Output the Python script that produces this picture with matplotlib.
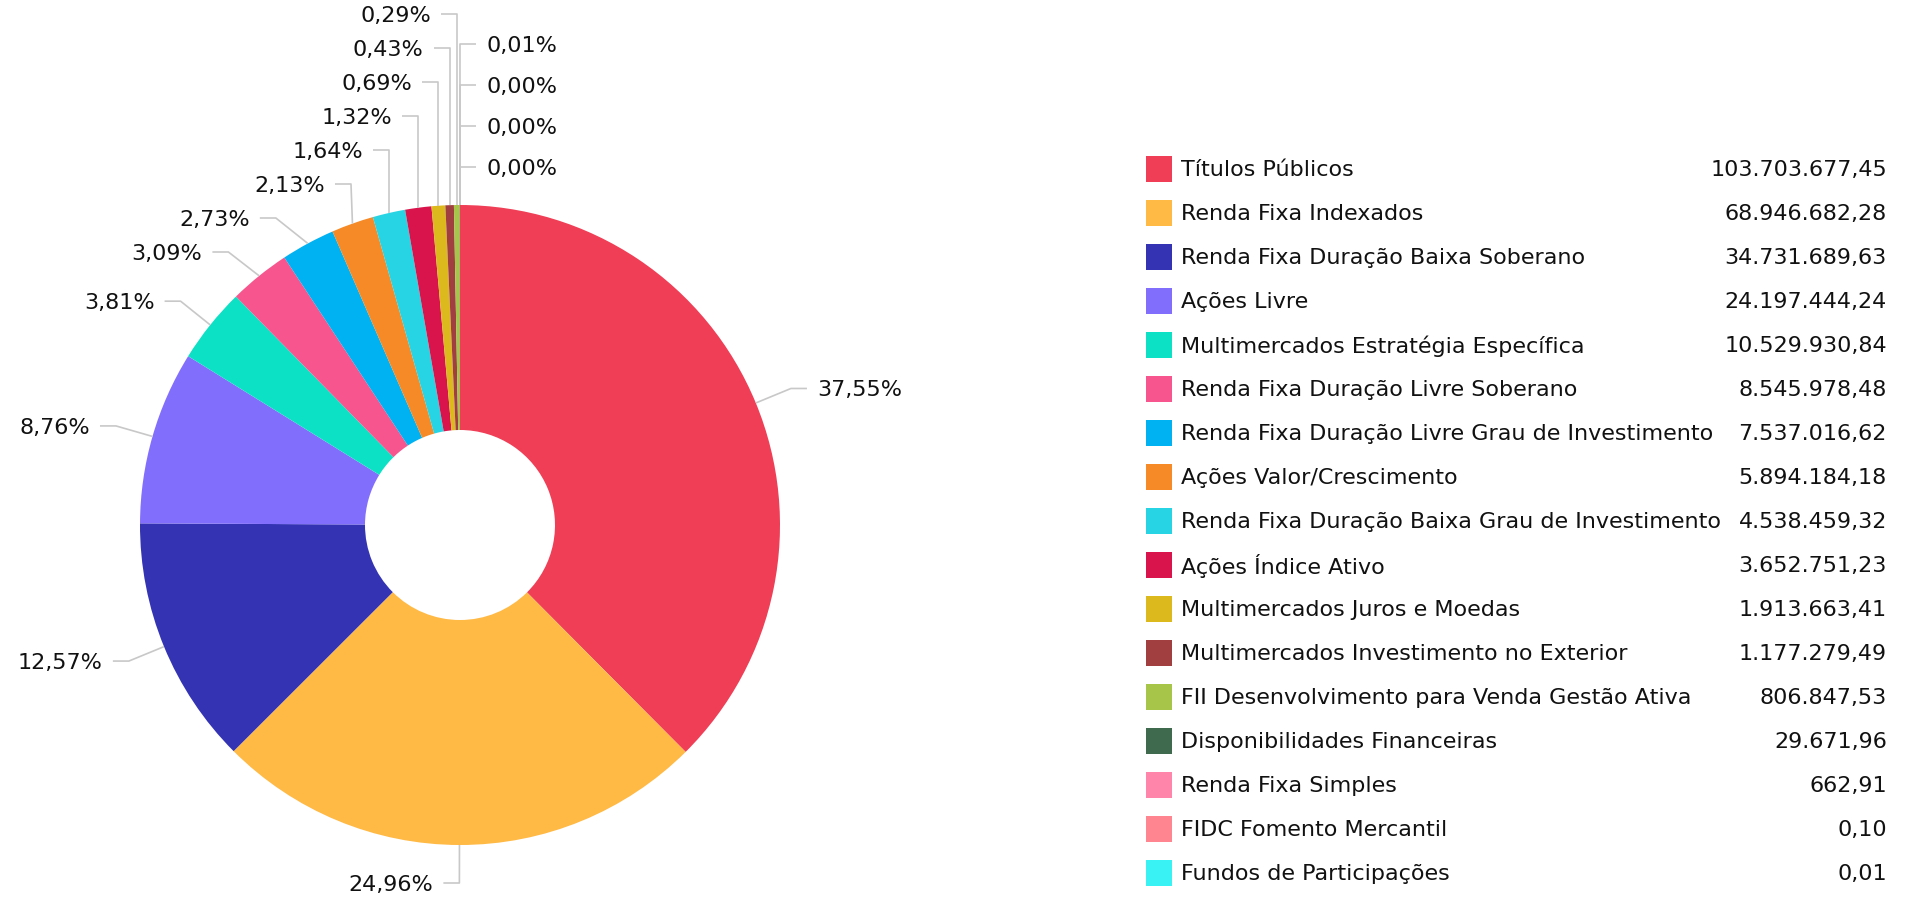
import matplotlib
matplotlib.use("Agg")
import matplotlib.pyplot as plt
import numpy as np
from matplotlib.patches import Rectangle

categories = [
    "Títulos Públicos",
    "Renda Fixa Indexados",
    "Renda Fixa Duração Baixa Soberano",
    "Ações Livre",
    "Multimercados Estratégia Específica",
    "Renda Fixa Duração Livre Soberano",
    "Renda Fixa Duração Livre Grau de Investimento",
    "Ações Valor/Crescimento",
    "Renda Fixa Duração Baixa Grau de Investimento",
    "Ações Índice Ativo",
    "Multimercados Juros e Moedas",
    "Multimercados Investimento no Exterior",
    "FII Desenvolvimento para Venda Gestão Ativa",
    "Disponibilidades Financeiras",
    "Renda Fixa Simples",
    "FIDC Fomento Mercantil",
    "Fundos de Participações",
]
values = [
    103703677.45, 68946682.28, 34731689.63, 24197444.24, 10529930.84,
    8545978.48, 7537016.62, 5894184.18, 4538459.32, 3652751.23,
    1913663.41, 1177279.49, 806847.53, 29671.96, 662.91, 0.10, 0.01,
]
colors = [
    "#ef3e55", "#ffb945", "#3333b4", "#826efc", "#0ce0c5", "#f6558e",
    "#00b2f2", "#f68a26", "#27d4e3", "#d9134b", "#dcba1d", "#a13e40",
    "#a7c548", "#3f6a4e", "#ff86aa", "#ff8690", "#38f2f4",
]


def fmt_br(v, decimals=2):
    s = f"{v:,.{decimals}f}"
    return s.replace(",", "X").replace(".", ",").replace("X", ".")


plt.rcParams["font.family"] = ["DejaVu Sans"]

W, H = 1914, 907
CX, CY = 460, 525          # pie centre, pixels from the left / top
R_OUT, R_IN = 320, 95
R_LAB = 358                # radius where connectors bend
SPACING = {1: 41, -1: 34}  # min vertical gap between labels, per side
FS = 16
TEXT_COLOR = "#111111"
LINE_COLOR = "#c8c8c8"

fig = plt.figure(figsize=(W / 100, H / 100), dpi=100)
ax = fig.add_axes([0, 0, 1, 1])
wedges, _ = ax.pie(
    values, colors=colors, radius=R_OUT, startangle=90, counterclock=False,
    wedgeprops=dict(width=R_OUT - R_IN, linewidth=0),
)
ax.set_xlim(-CX, W - CX)
ax.set_ylim(-(H - CY), CY)
ax.set_aspect("auto")
ax.axis("off")

total = sum(values)
pct_labels = [fmt_br(v / total * 100) + "%" for v in values]

# anchors and natural label positions
items = []
for i, w in enumerate(wedges):
    mid = np.deg2rad((w.theta1 + w.theta2) / 2)
    axx, ayy = R_OUT * np.cos(mid), R_OUT * np.sin(mid)
    side = 1 if (axx > 0 or (ayy > 0 and axx > -1.5)) else -1
    items.append(dict(i=i, ax=axx, ay=ayy, y=R_LAB * np.sin(mid), side=side))

y_top, y_bot = CY - 14, -(H - CY) + 18
for side in (1, -1):
    sp = SPACING[side]
    group = sorted([it for it in items if it["side"] == side],
                   key=lambda it: (-round(it["y"], 1), it["i"]))
    # push up from the bottom, then clamp from the top
    for k in range(len(group) - 1, -1, -1):
        if k == len(group) - 1:
            group[k]["y"] = max(group[k]["y"], y_bot)
        else:
            group[k]["y"] = max(group[k]["y"], group[k + 1]["y"] + sp)
    for k in range(len(group)):
        if k == 0:
            group[k]["y"] = min(group[k]["y"], y_top)
        else:
            group[k]["y"] = min(group[k]["y"], group[k - 1]["y"] - sp)

for it in items:
    s, ly = it["side"], it["y"]
    circ = np.sqrt(max(R_LAB ** 2 - ly ** 2, 0))
    bx = max(circ, it["ax"]) if s > 0 else min(-circ, it["ax"])
    ax.plot([it["ax"], bx, bx + s * 16], [it["ay"], ly, ly],
            color=LINE_COLOR, lw=1.2, solid_capstyle="butt", zorder=1)
    ax.text(bx + s * 26, ly - 2, pct_labels[it["i"]],
            ha="left" if s > 0 else "right", va="center",
            fontsize=FS, color=TEXT_COLOR)

# legend with values
LEG_X, LEG_Y0, LEG_DY, BOX = 1146 - CX, CY - 169, 44, 26
VAL_X = 1887 - CX
for i, (name, v, c) in enumerate(zip(categories, values, colors)):
    yc = LEG_Y0 - i * LEG_DY
    ax.add_patch(Rectangle((LEG_X, yc - BOX / 2), BOX, BOX, facecolor=c,
                           edgecolor="none"))
    ax.text(LEG_X + BOX + 9, yc - 1, name, ha="left", va="center",
            fontsize=FS, color=TEXT_COLOR)
    ax.text(VAL_X, yc - 1, fmt_br(v), ha="right", va="center",
            fontsize=FS, color=TEXT_COLOR)

fig.savefig("out.png", dpi=100, facecolor="white")
